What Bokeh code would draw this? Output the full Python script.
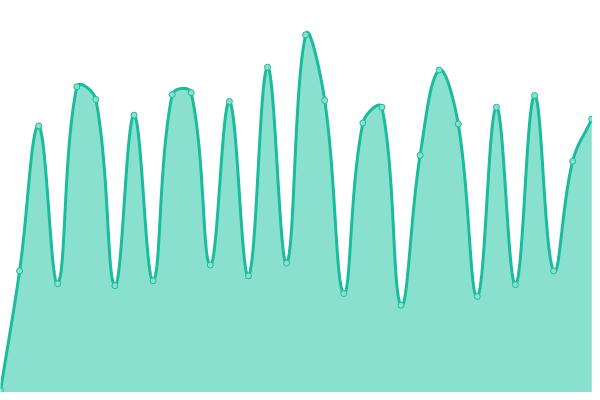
import numpy as np
from bokeh.plotting import figure
from bokeh.embed import file_html
from bokeh.resources import INLINE

# Data (value units = pixels above the baseline)
index = list(range(32))
values = [2, 124, 272, 111, 312, 299, 109, 283, 114, 304, 306, 130, 297, 119, 332, 132,
          365, 298, 101, 275, 291, 89, 242, 329, 274, 98, 291, 110, 303, 124, 236, 279]

LINE = "#1abc9c"
FILL = "#8ae0cf"
STEP = 19.33  # reference px per index unit (for spline shaping)
TENSION = 0.4


def spline(xs, ys, tension=TENSION, n=24):
    X = np.asarray(xs, float) * STEP
    Y = np.asarray(ys, float)
    m = len(X)
    cps_prev = np.zeros((m, 2))
    cps_next = np.zeros((m, 2))
    for i in range(m):
        cur = np.array([X[i], Y[i]])
        prev = np.array([X[i - 1], Y[i - 1]]) if i > 0 else cur
        nxt = np.array([X[i + 1], Y[i + 1]]) if i < m - 1 else cur
        d01 = np.hypot(*(cur - prev))
        d12 = np.hypot(*(nxt - cur))
        tot = d01 + d12
        s01 = d01 / tot if tot else 0
        s12 = d12 / tot if tot else 0
        cps_prev[i] = cur - tension * s01 * (nxt - prev)
        cps_next[i] = cur + tension * s12 * (nxt - prev)
    outx, outy = [X[0]], [Y[0]]
    t = np.linspace(0, 1, n + 1)[1:]
    for i in range(m - 1):
        p0 = np.array([X[i], Y[i]])
        p3 = np.array([X[i + 1], Y[i + 1]])
        p1 = cps_next[i]
        p2 = cps_prev[i + 1]
        b = ((1 - t) ** 3)[:, None] * p0 + (3 * (1 - t) ** 2 * t)[:, None] * p1 \
            + (3 * (1 - t) * t ** 2)[:, None] * p2 + (t ** 3)[:, None] * p3
        outx.extend(b[:, 0])
        outy.extend(b[:, 1])
    return np.array(outx) / STEP, np.array(outy)


cx, cy = spline(index, values)

p = figure(width=592, height=392, output_backend="svg", toolbar_location=None,
           x_range=(0, 600 / STEP), y_range=(0, 400),
           min_border=0, min_border_left=0, min_border_right=0,
           min_border_top=0, min_border_bottom=0)
p.axis.visible = False
p.grid.visible = False
p.outline_line_color = None
p.background_fill_color = "white"
p.border_fill_color = "white"

p.varea(x=cx, y1=0, y2=cy, fill_color=FILL, fill_alpha=1.0)
p.line(cx, cy, line_color=LINE, line_width=3)
p.scatter(index, values, size=6, fill_color=FILL, line_color=LINE, line_width=1)

open("out.html", "w").write(file_html(p, INLINE))
